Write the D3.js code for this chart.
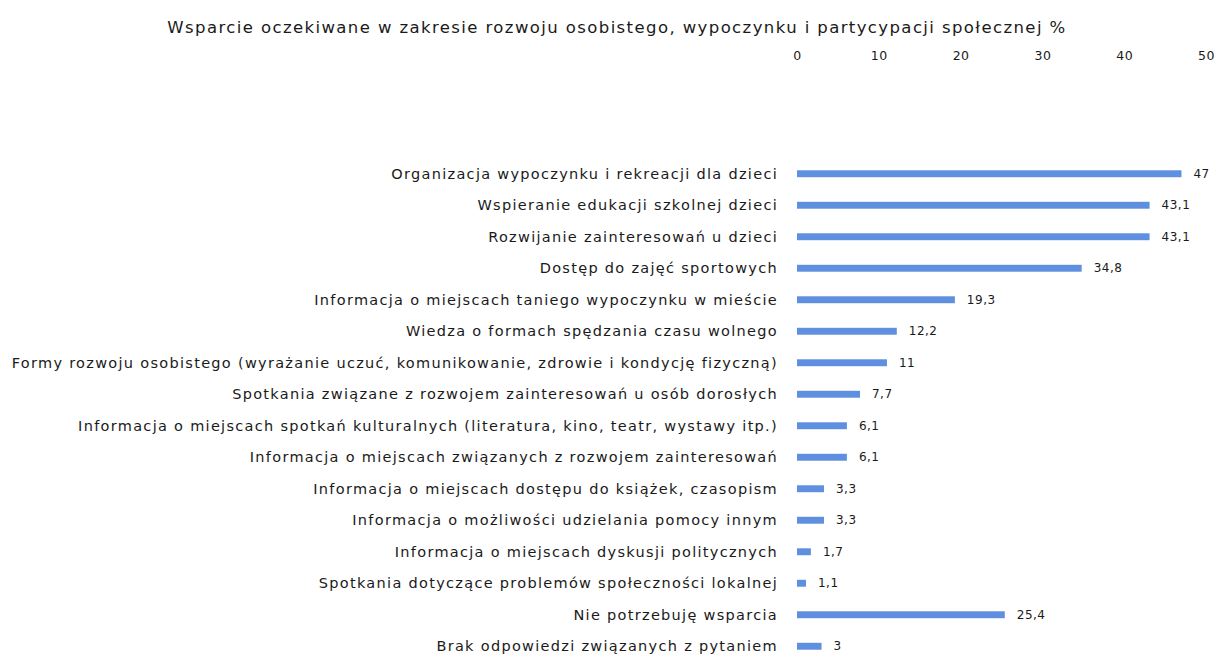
<!DOCTYPE html>
<html>
<head>
<meta charset="utf-8">
<script src="https://cdn.jsdelivr.net/npm/d3@7"></script>
<style>
  body { margin: 0; background: #fff; }
  text { fill: #1a1a1a; }
</style>
</head>
<body>
<svg></svg>
<script>
// data
var categories = [
  "Organizacja wypoczynku i rekreacji dla dzieci",
  "Wspieranie edukacji szkolnej dzieci",
  "Rozwijanie zainteresowań u dzieci",
  "Dostęp do zajęć sportowych",
  "Informacja o miejscach taniego wypoczynku w mieście",
  "Wiedza o formach spędzania czasu wolnego",
  "Formy rozwoju osobistego (wyrażanie uczuć, komunikowanie, zdrowie i kondycję fizyczną)",
  "Spotkania związane z rozwojem zainteresowań u osób dorosłych",
  "Informacja o miejscach spotkań kulturalnych (literatura, kino, teatr, wystawy itp.)",
  "Informacja o miejscach związanych z rozwojem zainteresowań",
  "Informacja o miejscach  dostępu do książek, czasopism",
  "Informacja o możliwości udzielania pomocy innym",
  "Informacja o miejscach dyskusji politycznych",
  "Spotkania dotyczące problemów społeczności lokalnej",
  "Nie potrzebuję wsparcia",
  "Brak odpowiedzi związanych z pytaniem"
];
var values = [47, 43.1, 43.1, 34.8, 19.3, 12.2, 11, 7.7, 6.1, 6.1, 3.3, 3.3, 1.7, 1.1, 25.4, 3];
var ticks = [0, 10, 20, 30, 40, 50];
var title = "Wsparcie oczekiwane w zakresie rozwoju osobistego, wypoczynku i partycypacji społecznej %";

var svgWidth = 1219, svgHeight = 664;
var svg = d3.select("svg")
    .attr("width", svgWidth)
    .attr("height", svgHeight);

var x = d3.scaleLinear().domain([0, 50]).range([797, 1206]);
var y = d3.scaleBand().domain(categories).range([158, 662]).paddingInner(0.78).paddingOuter(0.39);

// title
svg.append("text")
    .attr("x", 617).attr("y", 33)
    .attr("text-anchor", "middle")
    .style("font-family", "DejaVu Sans")
    .style("font-size", "16.5px")
    .style("letter-spacing", "1.4px")
    .text(title);

// top axis
var axis = svg.append("g")
    .attr("transform", "translate(0,63)")
    .call(d3.axisTop(x).tickValues(ticks).tickSize(0).tickFormat(d3.format("d")));
axis.select(".domain").remove();
axis.selectAll("text")
    .style("font-family", "DejaVu Sans")
    .style("font-size", "12.5px")
    .style("letter-spacing", "0.5px")
    .attr("fill", "#222");

// bars
var fmt = function(v) { return String(v).replace(".", ","); };

svg.selectAll("rect.bar")
    .data(values)
    .enter().append("rect")
    .attr("class", "bar")
    .attr("x", x(0))
    .attr("y", function(d, i) { return y(categories[i]); })
    .attr("width", function(d) { return x(d) - x(0); })
    .attr("height", y.bandwidth())
    .attr("fill", "#5f90e0");

// category labels
svg.selectAll("text.cat")
    .data(categories)
    .enter().append("text")
    .attr("class", "cat")
    .attr("x", 778)
    .attr("y", function(d) { return y(d) + y.bandwidth() / 2; })
    .attr("dy", "0.35em")
    .attr("text-anchor", "end")
    .style("font-family", "DejaVu Sans")
    .style("font-size", "14.5px")
    .style("letter-spacing", "1.3px")
    .text(function(d) { return d; });

// value labels
svg.selectAll("text.val")
    .data(values)
    .enter().append("text")
    .attr("class", "val")
    .attr("x", function(d) { return x(d) + 12; })
    .attr("y", function(d, i) { return y(categories[i]) + y.bandwidth() / 2; })
    .attr("dy", "0.35em")
    .style("font-family", "DejaVu Sans")
    .style("font-size", "12px")
    .style("letter-spacing", "0.5px")
    .text(function(d) { return fmt(d); });
</script>
</body>
</html>
